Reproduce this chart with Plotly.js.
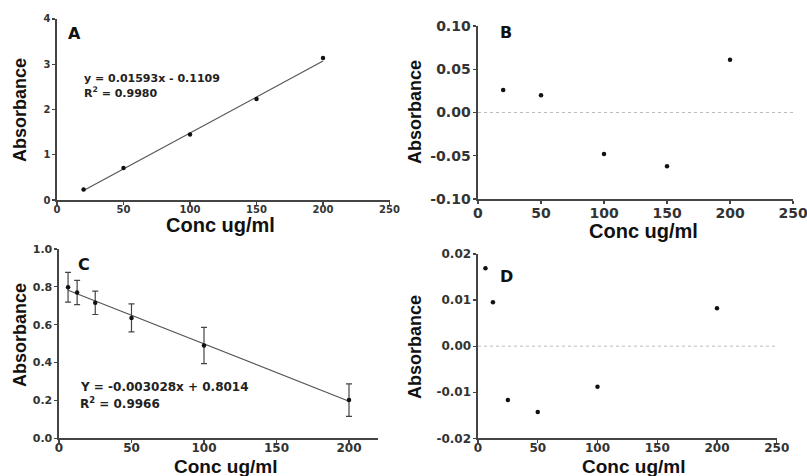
<!DOCTYPE html>
<html><head><meta charset="utf-8">
<script src="https://cdn.plot.ly/plotly-3.0.1.min.js"></script>
<style>html,body{margin:0;padding:0;background:#fff}#chart{width:807px;height:476px}</style>
</head><body><div id="chart"></div>
<script>
// Panel A: calibration
const concA = [20, 50, 100, 150, 200];
const absA = [0.23, 0.71, 1.45, 2.23, 3.14];
const fitA_x = [20, 200];
const fitA_y = [0.21, 3.07];
// Panel B: residuals of A
const concB = [20, 50, 100, 150, 200];
const resB = [0.026, 0.020, -0.048, -0.062, 0.061];
// Panel C: decreasing absorbance with error bars
const concC = [6.25, 12.5, 25, 50, 100, 200];
const absC = [0.798, 0.770, 0.716, 0.636, 0.490, 0.202];
const errC = [0.079, 0.064, 0.062, 0.074, 0.096, 0.086];
const fitC_x = [6.25, 200];
const fitC_y = [0.782, 0.196];
// Panel D: residuals of C
const concD = [6.25, 12.5, 25, 50, 100, 200];
const resD = [0.0169, 0.0095, -0.0117, -0.0143, -0.0088, 0.0082];
// Tick labels
const ticksA_y = [0, 1, 2, 3, 4];
const ticksA_lbl = ['0', '1', '2', '3', '4'];
const ticksB_y = [-0.10, -0.05, 0.00, 0.05, 0.10];
const ticksB_lbl = ['-0.10', '-0.05', '0.00', '0.05', '0.10'];
const ticksC_y = [0.0, 0.2, 0.4, 0.6, 0.8, 1.0];
const ticksC_lbl = ['0.0', '0.2', '0.4', '0.6', '0.8', '1.0'];
const ticksD_y = [-0.02, -0.01, 0.00, 0.01, 0.02];
const ticksD_lbl = ['-0.02', '-0.01', '0.00', '0.01', '0.02'];
const ticksX = [0, 50, 100, 150, 200, 250];
const ticksX_lbl = ['0', '50', '100', '150', '200', '250'];
const ticksXC = [0, 50, 100, 150, 200];
const ticksXC_lbl = ['0', '50', '100', '150', '200'];
const xTitle = 'Conc ug/ml';
const yTitle = 'Absorbance';

const FONT = 'Liberation Sans, Arial, sans-serif';
const TFONT = 'DejaVu Sans, sans-serif';
const mk = {color: '#111', size: 4.5};
const fitLine = {color: '#555', width: 1.2};
const bold = a => a.map(s => '<b>' + s + '</b>');

const traces = [
  {x: fitA_x, y: fitA_y, mode: 'lines', line: fitLine, xaxis: 'x', yaxis: 'y', hoverinfo: 'skip'},
  {x: concA, y: absA, mode: 'markers', marker: mk, xaxis: 'x', yaxis: 'y'},
  {x: concB, y: resB, mode: 'markers', marker: mk, xaxis: 'x2', yaxis: 'y2'},
  {x: fitC_x, y: fitC_y, mode: 'lines', line: fitLine, xaxis: 'x3', yaxis: 'y3', hoverinfo: 'skip'},
  {x: concC, y: absC, mode: 'markers', marker: mk, xaxis: 'x3', yaxis: 'y3',
   error_y: {type: 'data', array: errC, visible: true, color: '#444', thickness: 1.2, width: 3}},
  {x: concD, y: resD, mode: 'markers', marker: mk, xaxis: 'x4', yaxis: 'y4'}
];

function axis(domain, range, tickvals, ticktext, anchor, size, standoff) {
  return {domain: domain, range: range, tickvals: tickvals, ticktext: bold(ticktext), anchor: anchor,
    showgrid: false, zeroline: false, showline: true, linecolor: '#444', linewidth: 1.5,
    ticks: 'outside', ticklen: 3, tickcolor: '#444', tickwidth: 1.2,
    ticklabeloverflow: 'allow', ticklabelstandoff: standoff || 0,
    tickfont: {family: TFONT, size: size, color: '#333'}};
}

const ann = (t, x, y, size, opts) => Object.assign({text: t, x: x / 807, y: 1 - y / 476, xref: 'paper', yref: 'paper',
  xanchor: 'left', yanchor: 'middle', showarrow: false,
  font: {family: FONT, size: size, color: '#111'}}, opts || {});
const xt = (cx, cy, s) => ann('<b>' + xTitle + '</b>', cx, cy, s || 20, {xanchor: 'center', borderpad: 0});
const yt = (cx, cy) => ann('<b>' + yTitle + '</b>', cx, cy, 18, {xanchor: 'center', textangle: -90});
const lblFont = {family: TFONT, size: 16, color: '#111'};
const eqFontA = {family: TFONT, size: 11, color: '#222'};
const eqFontC = {family: TFONT, size: 12, color: '#222'};

const layout = {
  width: 807, height: 476, showlegend: false,
  paper_bgcolor: '#fff', plot_bgcolor: '#fff',
  margin: {l: 0, r: 0, t: 0, b: 0},
  xaxis: axis([0.0706, 0.4827], [0, 250], ticksX, ticksX_lbl, 'y', 10, -4),
  yaxis: axis([0.5798, 0.9601], [0, 4], ticksA_y, ticksA_lbl, 'x', 10),
  xaxis2: axis([0.5923, 0.9827], [0, 250], ticksX, ticksX_lbl, 'y2', 14, -2),
  yaxis2: axis([0.5819, 0.9454], [-0.10, 0.10], ticksB_y, ticksB_lbl, 'x2', 14),
  xaxis3: axis([0.0731, 0.4684], [0, 220], ticksXC, ticksXC_lbl, 'y3', 12, -5),
  yaxis3: axis([0.0792, 0.4769], [0, 1.0], ticksC_y, ticksC_lbl, 'x3', 11),
  xaxis4: axis([0.5923, 0.9625], [0, 250], ticksX, ticksX_lbl, 'y4', 12, -5),
  yaxis4: axis([0.0792, 0.4664], [-0.02, 0.02], ticksD_y, ticksD_lbl, 'x4', 12),
  shapes: [
    {type: 'line', xref: 'x2', yref: 'y2', x0: 0, x1: 250, y0: 0, y1: 0, line: {color: '#bbb', width: 1, dash: 'dot'}},
    {type: 'line', xref: 'x4', yref: 'y4', x0: 0, x1: 250, y0: 0, y1: 0, line: {color: '#bbb', width: 1, dash: 'dot'}}
  ],
  annotations: [
    xt(220, 225), yt(20, 110),
    xt(643, 231), yt(415, 112),
    xt(225, 466, 19), yt(20, 335),
    xt(633, 466, 19), yt(415, 347),
    ann('<b>A</b>', 74.5, 34, 16, {xanchor: 'center', font: lblFont}),
    ann('<b>B</b>', 506, 33, 16, {xanchor: 'center', font: lblFont}),
    ann('<b>C</b>', 83.5, 264, 16, {xanchor: 'center', font: lblFont}),
    ann('<b>D</b>', 506, 276, 16, {xanchor: 'center', font: lblFont}),
    ann('<b>y = 0.01593x - 0.1109</b>', 82, 79, 11, {font: eqFontA}),
    ann('<b>R<sup>2</sup> = 0.9980</b>', 82, 93, 11, {font: eqFontA}),
    ann('<b>Y = -0.003028x + 0.8014</b>', 78, 387, 12, {font: eqFontC}),
    ann('<b>R<sup>2</sup> = 0.9966</b>', 78, 403, 12, {font: eqFontC})
  ]
};

Plotly.newPlot('chart', traces, layout, {displayModeBar: false, staticPlot: true});
</script></body></html>
